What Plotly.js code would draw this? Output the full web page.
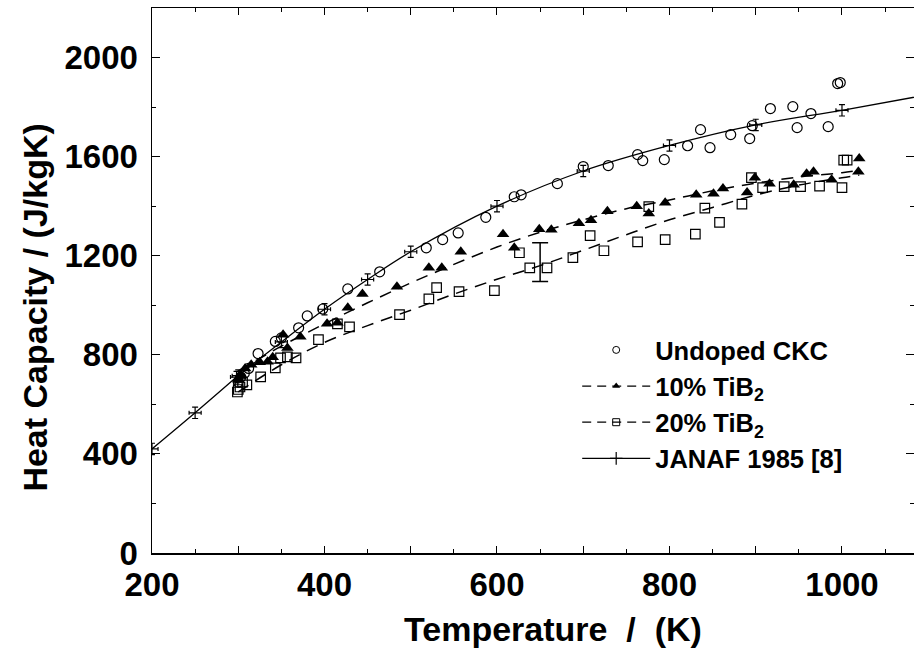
<!DOCTYPE html>
<html>
<head>
<meta charset="utf-8">
<script src="https://cdn.plot.ly/plotly-3.0.1.min.js"></script>
<style>html,body{margin:0;padding:0;background:#fff;}#chart{width:914px;height:651px;}</style>
</head>
<body>
<div id="chart"></div>
<script>
// JANAF 1985 reference curve (graphite)
const janafT  = [200, 250, 298, 300, 350, 400, 450, 500, 600, 700, 800, 900, 1000, 1100];
const janafCp = [420, 566, 710, 716, 852, 984, 1104, 1216, 1400, 1542, 1645, 1728, 1787, 1850];

// Undoped CKC (open circles)
const undopedT  = [300, 303, 307, 312, 323, 343, 350, 370, 380, 398, 427, 464, 518, 537, 555, 587, 620, 628, 670, 700, 729, 763, 769, 794, 821, 836, 847, 871, 893, 896, 917, 943, 948, 964, 984, 995, 998];
const undopedCp = [690, 710, 725, 745, 805, 854, 868, 909, 957, 985, 1066, 1135, 1232, 1265, 1292, 1355, 1438, 1446, 1491, 1560, 1564, 1608, 1584, 1588, 1644, 1709, 1636, 1689, 1673, 1725, 1794, 1802, 1717, 1774, 1721, 1895, 1899];

// 10% TiB2 (filled triangles)
const tib10T  = [300, 303, 308, 315, 325, 334, 340, 352, 357, 372, 403, 415, 427, 444, 484, 521, 536, 558, 607, 620, 649, 663, 695, 709, 728, 762, 776, 795, 831, 851, 862, 890, 899, 916, 944, 959, 967, 988, 1019, 1020];
const tib10Cp = [700, 720, 745, 760, 770, 772, 790, 881, 828, 873, 925, 929, 990, 1046, 1075, 1151, 1151, 1216, 1287, 1232, 1307, 1305, 1331, 1343, 1380, 1400, 1370, 1414, 1446, 1450, 1471, 1455, 1515, 1491, 1487, 1531, 1539, 1507, 1539, 1592];
const fit10T  = [300, 350, 400, 450, 500, 550, 600, 650, 700, 750, 800, 850, 900, 950, 1000, 1020];
const fit10Cp = [735, 835, 925, 1010, 1090, 1165, 1235, 1295, 1345, 1390, 1425, 1462, 1493, 1518, 1535, 1545];

// 20% TiB2 (open squares)
const tib20T  = [299, 300, 302, 305, 310, 326, 343, 349, 357, 367, 393, 415, 429, 487, 521, 530, 556, 597, 626, 638, 658, 688, 708, 724, 763, 776, 795, 830, 841, 858, 884, 895, 908, 933, 952, 974, 1000, 1002, 1006];
const tib20Cp = [650, 660, 670, 690, 679, 711, 747, 788, 792, 788, 861, 925, 913, 962, 1026, 1071, 1055, 1059, 1212, 1151, 1151, 1192, 1281, 1220, 1256, 1398, 1265, 1287, 1392, 1335, 1408, 1515, 1475, 1479, 1479, 1481, 1475, 1586, 1586];
const fit20T  = [300, 350, 400, 450, 500, 550, 600, 650, 700, 750, 800, 850, 900, 950, 1000, 1020];
const fit20Cp = [650, 760, 850, 918, 980, 1045, 1105, 1160, 1222, 1285, 1345, 1395, 1445, 1485, 1515, 1525];

// representative error bar on the 20% series
const errT = [650];
const errCp = [1174];
const errHalf = [78];

// JANAF marker uncertainty
const janafErrCp = 23;
const janafErrT = 7;

// series names
const names = ['Undoped CKC', '10% TiB<sub>2</sub>', '20% TiB<sub>2</sub>', 'JANAF 1985 [8]'];

// axis ticks and titles
const xTickVals = [200, 300, 400, 500, 600, 700, 800, 900, 1000];
const xTickText = ['200', '', '400', '', '600', '', '800', '', '1000'];
const yTickVals = [0, 400, 800, 1200, 1600, 2000];
const yTickText = ['0', '400', '800', '1200', '1600', '2000'];
const xTitle = 'Temperature  /  (K)';
const yTitle = 'Heat Capacity / (J/kgK)';

const FONT = '"Liberation Sans", Arial, Helvetica, sans-serif';
const BLK = '#000';

const traces = [
  // data
  {
    x: undopedT, y: undopedCp, type: 'scatter', mode: 'markers', showlegend: false,
    marker: {symbol: 'circle-open', size: 10, color: BLK, line: {width: 1.2, color: BLK}}
  },
  {
    x: tib10T, y: tib10Cp, type: 'scatter', mode: 'markers', showlegend: false,
    marker: {symbol: 'triangle-up', size: 11, color: BLK}
  },
  {
    x: fit10T, y: fit10Cp, type: 'scatter', mode: 'lines', showlegend: false,
    line: {color: BLK, width: 1.5, dash: '12px,8px', shape: 'spline'}
  },
  {
    x: tib20T, y: tib20Cp, type: 'scatter', mode: 'markers', showlegend: false,
    marker: {symbol: 'square-open', size: 9.5, color: BLK, line: {width: 1.2, color: BLK}}
  },
  {
    x: fit20T, y: fit20Cp, type: 'scatter', mode: 'lines', showlegend: false,
    line: {color: BLK, width: 1.5, dash: '12px,8px', shape: 'spline'}
  },
  {
    x: janafT, y: janafCp, type: 'scatter', mode: 'lines', showlegend: false,
    line: {color: BLK, width: 1.3, shape: 'spline'},
    error_y: {type: 'constant', value: janafErrCp, color: BLK, thickness: 1.2, width: 3},
    error_x: {type: 'constant', value: janafErrT, color: BLK, thickness: 1.2, width: 2}
  },
  {
    x: errT, y: errCp, type: 'scatter', mode: 'markers', showlegend: false,
    marker: {size: 1, opacity: 0, color: BLK},
    error_y: {type: 'data', array: errHalf, color: BLK, thickness: 1.5, width: 8}
  },
  // legend entries
  {
    x: [null], y: [null], type: 'scatter', mode: 'markers', name: names[0], legendrank: 1,
    marker: {symbol: 'circle-open', size: 7, color: BLK, line: {width: 1, color: BLK}}
  },
  {
    x: [null], y: [null], type: 'scatter', mode: 'lines+markers', name: names[1], legendrank: 2,
    line: {color: BLK, width: 1.2, dash: '9px,6px'},
    marker: {symbol: 'triangle-up', size: 7, color: BLK}
  },
  {
    x: [null], y: [null], type: 'scatter', mode: 'lines+markers', name: names[2], legendrank: 3,
    line: {color: BLK, width: 1.2, dash: '9px,6px'},
    marker: {symbol: 'square-open', size: 7, color: BLK, line: {width: 1, color: BLK}}
  },
  {
    x: [null], y: [null], type: 'scatter', mode: 'lines+markers', name: names[3], legendrank: 4,
    line: {color: BLK, width: 1.1},
    marker: {symbol: 'cross-thin-open', size: 9, color: BLK, line: {width: 1.2, color: BLK}}
  }
];

const layout = {
  width: 914, height: 651,
  margin: {l: 152, r: 0, t: 8, b: 98},
  paper_bgcolor: '#fff', plot_bgcolor: '#fff',
  font: {family: FONT, color: BLK},
  showlegend: true,
  legend: {
    x: 0.558, y: 0.415, xanchor: 'left', yanchor: 'top',
    bgcolor: 'rgba(0,0,0,0)', borderwidth: 0,
    font: {family: FONT, size: 25.5, weight: 'bold', color: BLK},
    itemwidth: 68, tracegroupgap: 0, traceorder: 'normal'
  },
  xaxis: {
    range: [200, 1083.5], showgrid: false, zeroline: false,
    showline: true, linecolor: BLK, linewidth: 1.5, mirror: 'ticks',
    ticks: 'inside', ticklen: 7, tickwidth: 1, tickcolor: BLK,
    tickmode: 'array', tickvals: xTickVals, ticktext: xTickText,
    minor: {dtick: 50, tick0: 200, ticks: 'inside', ticklen: 4, tickcolor: BLK, showgrid: false},
    tickfont: {family: FONT, size: 33, weight: 'bold', color: BLK},
    ticklabelstandoff: 2,
    automargin: false
  },
  yaxis: {
    range: [0, 2200], showgrid: false, zeroline: false,
    showline: true, linecolor: BLK, linewidth: 1.5, mirror: 'ticks',
    ticks: 'inside', ticklen: 8, tickwidth: 1, tickcolor: BLK,
    tickmode: 'array', tickvals: yTickVals, ticktext: yTickText,
    minor: {dtick: 200, tick0: 0, ticks: 'inside', ticklen: 4, tickcolor: BLK, showgrid: false},
    tickfont: {family: FONT, size: 33, weight: 'bold', color: BLK},
    ticklabelstandoff: 6,
    automargin: false
  },
  annotations: [
    {
      text: xTitle, xref: 'paper', yref: 'paper', x: 0.526, y: -0.139,
      xanchor: 'center', yanchor: 'middle', showarrow: false,
      font: {family: FONT, size: 34, weight: 'bold', color: BLK}
    },
    {
      text: yTitle, xref: 'paper', yref: 'paper', x: -0.153, y: 0.451, textangle: -90,
      xanchor: 'center', yanchor: 'middle', showarrow: false,
      font: {family: FONT, size: 34, weight: 'bold', color: BLK}
    }
  ]
};

Plotly.newPlot('chart', traces, layout, {displayModeBar: false, staticPlot: true});
</script>
</body>
</html>
